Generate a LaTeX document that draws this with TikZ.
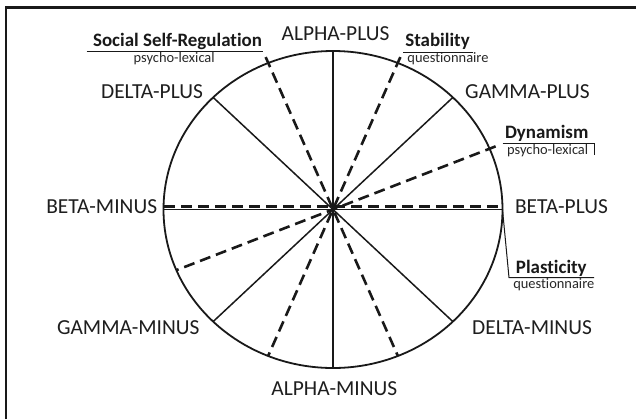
\documentclass[tikz,border=0pt]{standalone}
\usepackage{fontspec}
\setmainfont{Carlito}[Ligatures={NoCommon}]
\begin{document}
\begin{tikzpicture}[x=1bp,y=-1bp,
  ink/.style={draw={rgb,255:red,25;green,25;blue,25}},
  frameline/.style={ink,line width=2.2bp},
  rim/.style={ink,line width=1.8bp},
  spoke/.style={ink,line width=1.5bp},
  dashspoke/.style={ink,line width=2.6bp,dash pattern=on 11bp off 6bp},
  thin/.style={ink,line width=1bp},
  biglabel/.style={anchor=base,inner sep=0pt,text={rgb,255:red,30;green,30;blue,30},font=\fontsize{21.5}{24}\selectfont},
  boldlabel/.style={anchor=base,inner sep=0pt,text={rgb,255:red,25;green,25;blue,25},font=\fontsize{19}{22}\selectfont\bfseries},
  smalllabel/.style={anchor=base,inner sep=0pt,text={rgb,255:red,40;green,40;blue,40},font=\fontsize{14.5}{17}\selectfont}]
\useasboundingbox (0,0) rectangle (636,419);
\fill[white] (0,0) rectangle (636,419);
% frame (only top and left edges visible)
\draw[frameline] (6,419) -- (6,7.5) -- (636,7.5);
% centre and ellipse
\coordinate (c) at (333,209.5);
\draw[rim] (c) ellipse [x radius=169.5bp, y radius=158.5bp];
% points on the rim
\foreach \t/\n in {0/p0,45/p45,90/p90,135/p135,180/p180,225/p225,270/p270,315/p315,
                   22.5/d1,67.5/d2,112.5/d3,202.5/d4,247.5/d5,292.5/d6}{
  \coordinate (\n) at ({333+169.5*cos(\t)},{209.5-158.5*sin(\t)});
}
\foreach \t/\n in {22.5/e1,67.5/e2,112.5/e3}{
  \coordinate (\n) at ({333+176*cos(\t)},{209.5-165*sin(\t)});
}
% solid spokes
\draw[spoke] (p90) -- (p270);
\draw[spoke] (p0) -- (p180);
\draw[spoke] (p45) -- (p225);
\draw[spoke] (p135) -- (p315);
% dashed spokes
\coordinate (hl) at (164,206.7);
\coordinate (hr) at (502,206.7);
\draw[dashspoke] (hl) -- (hr);
\draw[dashspoke] (e1) -- (d4);
\draw[dashspoke] (e2) -- (d5);
\draw[dashspoke] (e3) -- (d6);
% big labels
\node[biglabel] (ap) at (335.5,40) {ALPHA-PLUS};
\node[biglabel] (dp) at (152,98.3) {DELTA-PLUS};
\node[biglabel] (gp) at (527.5,98.3) {GAMMA-PLUS};
\node[biglabel] (bm) at (101.7,213.3) {BETA-MINUS};
\node[biglabel] (bp) at (561.5,213.3) {BETA-PLUS};
\node[biglabel] (gm) at (128.3,334) {GAMMA-MINUS};
\node[biglabel] (dm) at (532,334) {DELTA-MINUS};
\node[biglabel] (am) at (334.3,395) {ALPHA-MINUS};
% annotation labels
\node[boldlabel] (ssr) at (177.5,46.7) {Social Self-Regulation};
\node[smalllabel] (ssrs) at (174.2,62.3) {psycho-lexical};
\coordinate (u1a) at (86.7,51.7);
\coordinate (u1b) at (263.3,51.7);
\draw[thin] (u1a) -- (u1b);

\node[boldlabel] (stb) at (437.5,46.7) {Stability};
\node[smalllabel] (stbs) at (448,62.7) {questionnaire};
\coordinate (u2a) at (403,52);
\coordinate (u2b) at (473.3,52);
\draw[thin] (u2a) -- (u2b);

\node[boldlabel] (dyn) at (546.7,138.3) {Dynamism};
\node[smalllabel] (dyns) at (547.7,154) {psycho-lexical};
\coordinate (u3a) at (502.7,143.3);
\coordinate (u3b) at (594,143.3);
\coordinate (u3c) at (594,155);
\draw[thin] (u3a) -- (u3b) -- (u3c);

\node[boldlabel] (pla) at (551.3,273.3) {Plasticity};
\node[smalllabel] (plas) at (553.8,288.3) {questionnaire};
\coordinate (u4a) at (509,277.7);
\coordinate (u4b) at (594,277.7);
\draw[thin] (p0) -- (u4a) -- (u4b);
\end{tikzpicture}
\end{document}
